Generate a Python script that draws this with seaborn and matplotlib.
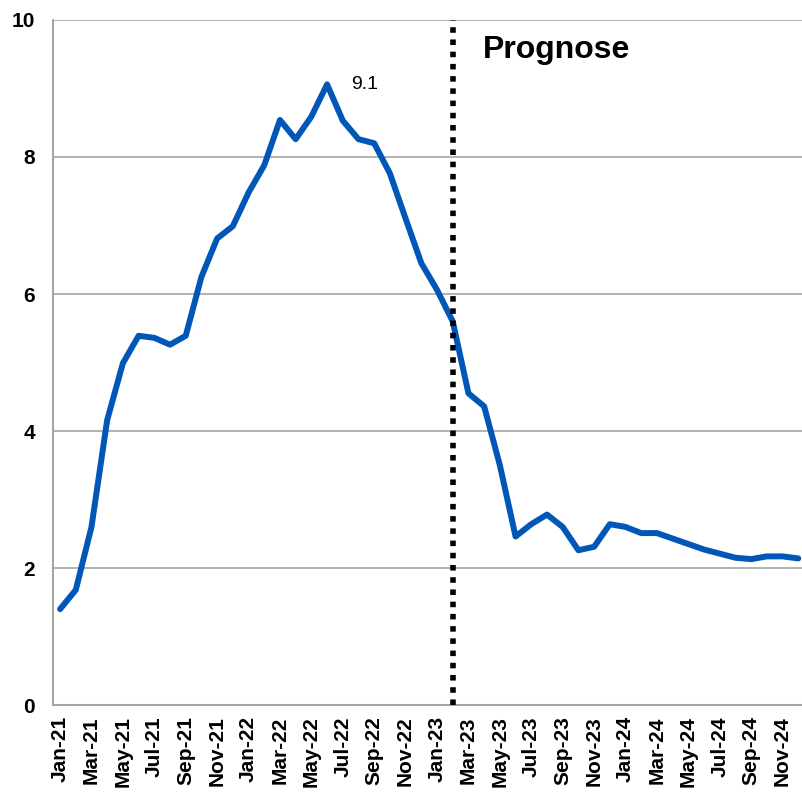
import matplotlib
matplotlib.use("Agg")
import matplotlib.pyplot as plt
import seaborn as sns
import numpy as np
import pandas as pd

# monthly labels Jan-21 .. Dec-24
years = ["21", "22", "23", "24"]
month_names = ["Jan", "Feb", "Mar", "Apr", "May", "Jun",
               "Jul", "Aug", "Sep", "Oct", "Nov", "Dec"]
months = [m + "-" + y for y in years for m in month_names]

# inflation values
inflation = [1.40, 1.68, 2.60, 4.16, 4.99, 5.39, 5.36, 5.26, 5.39, 6.25, 6.81, 6.99,
             7.48, 7.88, 8.54, 8.26, 8.59, 9.06, 8.53, 8.26, 8.20, 7.76, 7.10, 6.45,
             6.06, 5.60, 4.55, 4.36, 3.50, 2.46, 2.64, 2.78, 2.60, 2.26, 2.31, 2.64,
             2.60, 2.51, 2.51, 2.43, 2.35, 2.27, 2.21, 2.15, 2.13, 2.17, 2.17, 2.14]

forecast_start = "Feb-23"
forecast_label = "Prognose"
peak_label = "9.1"
y_ticks = [0, 2, 4, 6, 8, 10]

df = pd.DataFrame({"month": months, "value": inflation})
df["idx"] = np.arange(len(df))

sns.set_style("white")
plt.rcParams["font.family"] = ["Liberation Sans", "DejaVu Sans"]
plt.rcParams["text.color"] = "black"
plt.rcParams["xtick.color"] = "black"
plt.rcParams["ytick.color"] = "black"

fig = plt.figure(figsize=(8.03, 7.99), dpi=100)
ax = fig.add_axes([0.066, 0.1176, 0.934, 0.8574])

# grid lines
for t in y_ticks[1:]:
    ax.axhline(t, color="#a6a6a6", lw=1.2, zorder=0)

sns.lineplot(data=df, x="idx", y="value", ax=ax, color="#0057b8", lw=4.3,
             zorder=3)

# forecast divider
fx = months.index(forecast_start)
ax.axvline(fx, color="black", lw=4, linestyle=(0, (1, 1.2)), zorder=4)
ax.text(fx + 1.95, 9.56, forecast_label, fontsize=23, fontweight="bold",
        ha="left", va="center")

# peak label
pk = int(np.argmax(inflation))
ax.annotate(peak_label, xy=(pk, inflation[pk]), xytext=(17, 0),
            textcoords="offset points", ha="left", va="center", fontsize=14)

ax.set_xlim(-0.45, 47.3)
ax.set_ylim(0, 10)
ax.set_yticks(y_ticks)
ax.set_yticklabels([str(t) for t in y_ticks], fontsize=15, fontweight="bold")
ax.set_xticks(df["idx"][::2])
ax.set_xticklabels(df["month"][::2], rotation=90, fontsize=15,
                   fontweight="bold")
ax.tick_params(axis="y", length=0, pad=13)
ax.tick_params(axis="x", length=0, pad=8)
ax.set_xlabel("")
ax.set_ylabel("")

for s in ["top", "right"]:
    ax.spines[s].set_visible(False)
for s in ["left", "bottom"]:
    ax.spines[s].set_color("#a6a6a6")
    ax.spines[s].set_linewidth(1.5)

fig.savefig("out.png", dpi=100)
